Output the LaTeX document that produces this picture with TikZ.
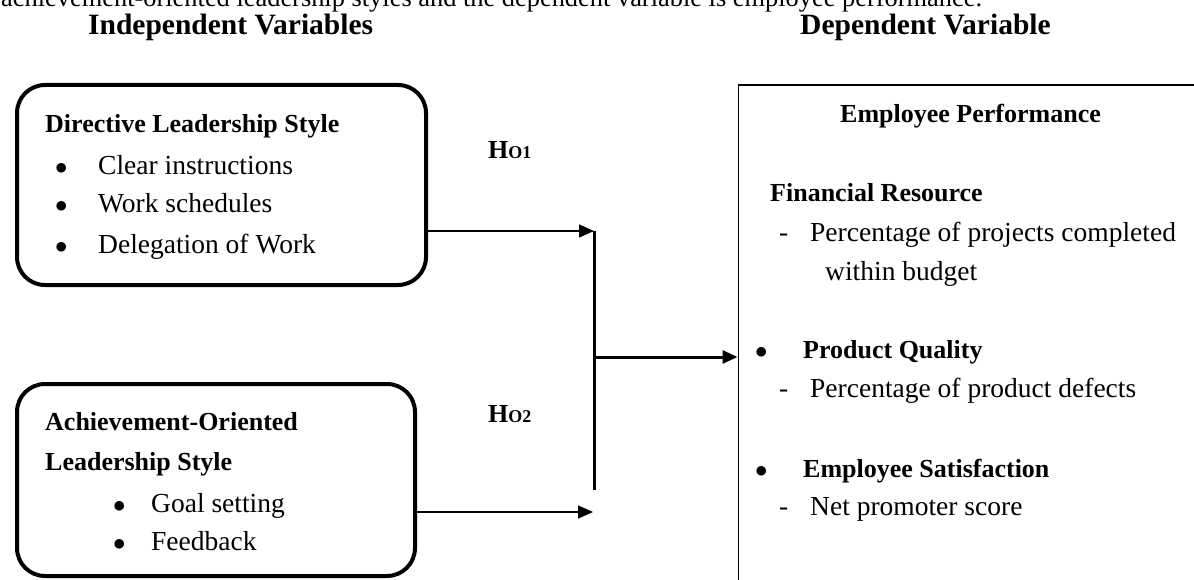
\documentclass[tikz,border=0pt]{standalone}
\usepackage{fontspec}
\setmainfont{Liberation Serif}
\usetikzlibrary{arrows.meta,positioning}

\begin{document}
\begin{tikzpicture}[x=1pt,y=-1pt,>={Triangle[length=15pt,width=13pt]}]
	\tikzstyle{ivbox}=[draw,line width=4pt,rounded corners=28pt,inner sep=0pt]
	\tikzstyle{dvbox}=[draw,line width=1.5pt,inner sep=0pt]
	\tikzstyle{txt}=[inner sep=0pt,anchor=base west,font=\fontsize{27.5}{33}\selectfont]
	\tikzstyle{btxt}=[inner sep=0pt,anchor=base west,font=\fontsize{26}{31}\selectfont\bfseries]
	\tikzstyle{head}=[inner sep=0pt,anchor=base west,font=\fontsize{29.5}{35}\selectfont\bfseries]
	\tikzstyle{link}=[->,line width=1.5pt]
	\tikzstyle{joinbar}=[line width=3pt]
	\useasboundingbox (0,0) rectangle (1194,580);
	\clip (0,0) rectangle (1194,580);

	\node[txt,font=\fontsize{26.4}{32}\selectfont] (intro) at (1,7) {achievement-oriented leadership styles and the dependent variable is employee performance.};
	\node[head] (ivtitle) at (88,35) {Independent Variables};
	\node[head] (dvtitle) at (800,35) {Dependent Variable};

	% independent variables
	\node[ivbox,minimum width=409pt,minimum height=200pt] (dir) at (221.5,185) {};
	\node[btxt] (dirhead) at (45,133) {Directive Leadership Style};
	\node[txt] (dir1) at (55,175) {\makebox[43pt][l]{$\bullet$}Clear instructions};
	\node[txt] (dir2) at (55,213) {\makebox[43pt][l]{$\bullet$}Work schedules};
	\node[txt] (dir3) at (55,253) {\makebox[43pt][l]{$\bullet$}Delegation of Work};

	\node[ivbox,minimum width=398pt,minimum height=192pt] (ach) at (216,480) {};
	\node[btxt] (achhead) at (45,430) {Achievement-Oriented};
	\node[btxt] (achhead2) at (45,470) {Leadership Style};
	\node[txt] (ach1) at (113,512) {\makebox[38pt][l]{$\bullet$}Goal setting};
	\node[txt] (ach2) at (113,550) {\makebox[38pt][l]{$\bullet$}Feedback};

	% dependent variable
	\node[dvbox,minimum width=600pt,minimum height=600pt,anchor=north west] (perf) at (737.5,84.5) {};
	\node[btxt] (perfhead) at (840,123) {Employee Performance};
	\node[btxt] (fin) at (770,202) {Financial Resource};
	\node[txt] (fin1) at (779,242) {\makebox[31pt][l]{-}Percentage of projects completed};
	\node[txt] (fin2) at (825,280) {within budget};
	\node[txt] (pq) at (755,358) {\makebox[48pt][l]{$\bullet$}\bfseries\fontsize{26}{31}\selectfont Product Quality};
	\node[txt] (pq1) at (779,397) {\makebox[31pt][l]{-}Percentage of product defects};
	\node[txt] (es) at (755,477) {\makebox[48pt][l]{$\bullet$}\bfseries\fontsize{26}{31}\selectfont Employee Satisfaction};
	\node[txt] (es1) at (779,515) {\makebox[31pt][l]{-}Net promoter score};

	% hypotheses
	\node[btxt] (h1) at (488,159) {H\fontsize{18}{18}\selectfont O1};
	\node[btxt] (h2) at (488,422) {H\fontsize{18}{18}\selectfont O2};

	\coordinate (jtop) at (594,231);
	\coordinate (jmid) at (594,357);
	\coordinate (jbot) at (594,490);
	\coordinate (jlow) at (593,512);

	\draw[link] (jtop -| dir.east) -- (jtop);
	\draw[link] (jlow -| ach.east) -- (jlow);
	\draw[joinbar] (jtop) -- (jbot);
	\draw[joinbar,->] (jmid) -- (jmid -| perf.west);

\end{tikzpicture}
\end{document}
